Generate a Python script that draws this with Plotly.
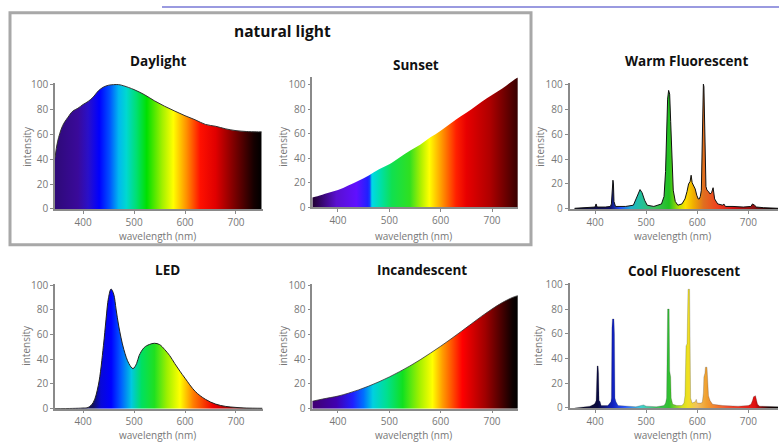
import plotly.graph_objects as go

W, H = 779, 448

# ---------------- data ----------------
daylight_nm = [345, 350, 360, 370, 380, 390, 400, 410, 420, 430, 440, 450, 460, 470, 480,
               500, 520, 540, 560, 580, 600, 620, 640, 660, 680, 700, 720, 740, 750]
daylight_int = [41, 54, 67, 73.5, 78.7, 81, 84, 86.5, 90, 95, 98, 99.5, 100, 100, 99,
                96, 92, 87, 82.6, 78.7, 75, 71.7, 68, 66.5, 64.4, 63, 62.3, 62, 62]

sunset_nm = [350, 360, 380, 400, 420, 440, 460, 480, 500, 520, 540, 560, 580, 600,
             620, 640, 660, 680, 700, 720, 740, 750]
sunset_int = [8, 9, 11.6, 14, 17.7, 21.6, 26, 31, 35, 40.6, 46, 51, 57, 62.5,
              68.6, 74.4, 80, 86, 91.5, 96.8, 103, 105.8]

warm_nm = [360, 380, 395, 400, 402, 404, 420, 430, 432, 434, 435, 436, 437, 440, 460, 475,
           480, 485, 488, 492, 497, 502, 515, 530, 535, 538, 540, 542, 544, 546, 548,
           550, 553, 557, 562, 570, 576, 580, 583, 586, 588, 590, 593, 596, 599, 602,
           604, 606, 608, 609, 610, 611, 612, 613, 614, 615, 617, 619, 622, 625, 628,
           631, 634, 640, 650, 652, 655, 670, 690, 705, 708, 712, 716, 730, 750, 758]
warm_int = [0.5, 1, 1, 1.5, 4, 1.5, 1.5, 2, 4, 15, 23, 20, 6, 2, 2, 3,
            8, 14, 15.5, 13, 7, 3, 2, 4, 10, 30, 60, 88, 95, 92, 70,
            40, 15, 6, 3, 4, 8, 14, 20, 22, 27, 21, 18, 16, 11, 8,
            8, 10, 15, 33, 60, 92, 100, 98, 80, 40, 18, 15, 14, 12, 13,
            17, 8, 4, 3, 4, 2, 2, 1.5, 2, 4, 3, 1.5, 1, 1, 0.5]

led_nm = [345, 380, 400, 410, 420, 430, 440, 445, 450, 455, 460, 465, 470, 480, 490,
          498, 505, 510, 520, 530, 540, 550, 560, 570, 580, 590, 600, 620, 640, 660,
          680, 700, 720, 752]
led_int = [0, 0.2, 0.5, 1, 5, 19, 51, 72, 90, 97, 93, 80, 67, 48, 36.5,
           32.5, 36.5, 43, 49.6, 52, 53, 52, 48, 43, 36.5, 30.4, 24.7, 14, 7.6, 3.7,
           1.8, 1, 0.5, 0.3]

incand_nm = [350, 370, 400, 420, 440, 460, 480, 500, 520, 540, 560, 580, 600, 620,
             640, 660, 680, 700, 720, 740, 750]
incand_int = [6, 7.8, 10.2, 12.5, 15.2, 18.3, 21.8, 25.7, 30, 34.6, 39.6, 45, 50.6, 56.5,
              62.6, 68.8, 75, 80.8, 86, 90.2, 91.6]

cool_nm = [360, 375, 390, 398, 400, 402, 403, 404, 406, 407, 408, 410, 412, 425, 431,
           432, 433, 434, 437, 438, 439, 441, 445, 460, 480, 490, 495, 500, 520, 535,
           538, 540, 541, 542, 545, 546, 548, 549, 552, 560, 570, 574, 576, 577, 578,
           580, 581, 582, 585, 586, 587, 590, 596, 598, 600, 608, 610, 612, 613, 615,
           616, 619, 620, 622, 625, 630, 650, 680, 700, 705, 708, 710, 714, 716, 718,
           722, 740, 758]
cool_int = [0, 0.5, 1.5, 3, 4, 6, 30, 34, 34, 28, 6, 5, 2, 2, 5,
            8, 65, 72, 72, 60, 8, 5, 2, 1.5, 1, 2, 2.5, 1.5, 1, 2,
            4, 8, 70, 80, 80, 30, 25, 8, 3, 2, 2, 4, 10, 45, 50,
            52, 90, 96, 96, 60, 8, 4, 5, 7, 4, 4, 5, 12, 25, 28,
            33, 33, 20, 10, 6, 3, 2, 1.5, 2, 3, 6, 9, 10, 6, 3,
            1.5, 1, 1]

x_ticks = [400, 500, 600, 700]
y_ticks = [0, 20, 40, 60, 80, 100]

# spectrum colour stops (nm, colour)
daylight_stops = [(345, '#2e0a78'), (390, '#3a0a9a'), (410, '#2a10c8'), (432, '#0000ff'),
                  (452, '#0050ff'), (470, '#00b8f0'), (485, '#00d8d0'), (505, '#00e070'),
                  (525, '#00e000'), (555, '#a0f000'), (577, '#ffff00'), (603, '#ff9000'),
                  (630, '#ff1000'), (660, '#e00000'), (695, '#800000'), (735, '#150000'),
                  (752, '#000000')]
sunset_stops = [(350, '#200030'), (397, '#5a10d0'), (436, '#6010ff'), (458, '#2020ff'),
                (462, '#1040ff'), (466, '#00d8e8'), (485, '#00e0a0'), (505, '#10e050'),
                (540, '#30e020'), (562, '#b0f000'), (578, '#ffff00'), (604, '#ff9000'),
                (630, '#ff2000'), (650, '#e80000'), (695, '#b00000'), (750, '#380000')]
warm_stops = [(360, '#101030'), (403, '#101050'), (430, '#10106a'), (450, '#2050ff'),
              (470, '#20b0d0'), (488, '#20c0a0'), (515, '#40c060'), (545, '#20c020'),
              (565, '#c0e000'), (577, '#ffe000'), (592, '#f0b000'), (612, '#e07020'),
              (640, '#f04020'), (670, '#d01010'), (710, '#901010'), (740, '#200000'),
              (758, '#000000')]
led_stops = [(345, '#101040'), (420, '#101060'), (435, '#0808d8'), (455, '#0000ff'),
             (475, '#0060ff'), (495, '#00c8e0'), (515, '#00e060'), (540, '#20e020'),
             (565, '#a0f000'), (590, '#ffff00'), (616, '#ff8000'), (655, '#f00000'),
             (695, '#900000'), (725, '#200000'), (752, '#000000')]
incand_stops = [(350, '#400070'), (397, '#4000b0'), (429, '#2020ff'), (450, '#0070ff'),
                (468, '#00d0e0'), (495, '#00e090'), (526, '#10e020'), (558, '#a0f000'),
                (584, '#ffff00'), (603, '#ffa000'), (642, '#ff0000'), (687, '#a00000'),
                (739, '#100000'), (750, '#000000')]
cool_stops = [(360, '#101020'), (405, '#0a0a40'), (420, '#101880'), (435, '#1020c0'),
              (460, '#3060ff'), (490, '#40d0d0'), (520, '#40c060'), (545, '#30c030'),
              (570, '#d0e020'), (582, '#f0e020'), (600, '#f0c060'), (618, '#f0a030'),
              (660, '#f05030'), (713, '#e01010'), (740, '#200000'), (758, '#000000')]

# ---------------- panel layout (pixel geometry) ----------------
panels = [
    dict(title='Daylight', nm=daylight_nm, val=daylight_int, stops=daylight_stops,
         xr=[345, 752], yr=[0, 101], px=(55, 262.5), py=(209, 79.7),
         line=dict(color='#303030', width=1), shape='spline',
         tpos=(158, 57), ylab=(27, 145), xlab=(157, 237)),
    dict(title='Sunset', nm=sunset_nm, val=sunset_int, stops=sunset_stops,
         xr=[350, 751], yr=[0, 106], px=(312.3, 518.2), py=(207.3, 73.4),
         line=dict(color='rgba(0,0,0,0)', width=0), shape='spline',
         tpos=(416, 61), ylab=(283, 145), xlab=(413, 237)),
    dict(title='Warm Fluorescent', nm=warm_nm, val=warm_int, stops=warm_stops,
         xr=[350, 758], yr=[0, 101], px=(569.5, 778), py=(209, 79.2),
         line=dict(color='#101010', width=1), shape='linear',
         tpos=(686, 57), ylab=(540, 145), xlab=(672, 237)),
    dict(title='LED', nm=led_nm, val=led_int, stops=led_stops,
         xr=[345, 752], yr=[0, 101], px=(55, 262.5), py=(414.7, 286.4),
         line=dict(color='#202020', width=1), shape='spline',
         tpos=(167, 272), ylab=(26, 350), xlab=(157, 441.5)),
    dict(title='Incandescent', nm=incand_nm, val=incand_int, stops=incand_stops,
         xr=[350, 751], yr=[0, 101], px=(312.3, 518.2), py=(414.7, 286.4),
         line=dict(color='#303030', width=0.8), shape='spline',
         tpos=(422, 272), ylab=(283, 350), xlab=(413, 441.5)),
    dict(title='Cool Fluorescent', nm=cool_nm, val=cool_int, stops=cool_stops,
         xr=[350, 758], yr=[0, 101], px=(569.5, 778), py=(414, 285.4),
         line=dict(color='rgba(30,30,30,0.35)', width=0.6), shape='linear',
         tpos=(684, 273), ylab=(538, 350), xlab=(672, 441.5)),
]

GRAY = '#8a8a8a'
TICKCOL = '#777777'
FONT = 'Open Sans'

fig = go.Figure()
annotations = []
layout_axes = {}

for i, p in enumerate(panels, start=1):
    sfx = '' if i == 1 else str(i)
    start, stop = p['nm'][0], p['nm'][-1]
    cs = [[max(0, min(1, (n - start) / (stop - start))), c] for n, c in p['stops']]
    fig.add_trace(go.Scatter(
        x=p['nm'], y=p['val'], mode='lines', fill='tozeroy',
        line=dict(shape=p['shape'], color=p['line']['color'], width=p['line']['width']),
        fillgradient=dict(type='horizontal', start=start, stop=stop, colorscale=cs),
        xaxis='x' + sfx, yaxis='y' + sfx, showlegend=False, hoverinfo='skip'))

    common = dict(showgrid=False, zeroline=False, showline=True, linecolor=GRAY, linewidth=1.5,
                  ticks='outside', ticklen=3, tickcolor=GRAY, tickwidth=1.2,
                  tickfont=dict(family=FONT, size=10, color=TICKCOL), fixedrange=True)
    layout_axes['xaxis' + sfx] = dict(common, range=p['xr'], tickvals=x_ticks,
                                      domain=[p['px'][0] / W, p['px'][1] / W],
                                      anchor='y' + sfx)
    layout_axes['yaxis' + sfx] = dict(common, range=p['yr'], tickvals=y_ticks,
                                      domain=[1 - p['py'][0] / H, 1 - p['py'][1] / H],
                                      anchor='x' + sfx)

    annotations.append(dict(text='<b>%s</b>' % p['title'], x=p['tpos'][0] / W, y=1 - p['tpos'][1] / H,
                            xref='paper', yref='paper', showarrow=False, xanchor='center', yanchor='middle',
                            font=dict(family=FONT, size=13.5, color='#111111')))
    annotations.append(dict(text='intensity', x=p['ylab'][0] / W, y=1 - p['ylab'][1] / H,
                            xref='paper', yref='paper', showarrow=False, textangle=-90,
                            xanchor='center', yanchor='middle',
                            font=dict(family=FONT, size=10, color=TICKCOL)))
    annotations.append(dict(text='wavelength (nm)', x=p['xlab'][0] / W, y=1 - p['xlab'][1] / H,
                            xref='paper', yref='paper', showarrow=False,
                            xanchor='center', yanchor='middle',
                            font=dict(family=FONT, size=10, color=TICKCOL)))

annotations.append(dict(text='<b>natural light</b>', x=282 / W, y=1 - 26 / H, xref='paper', yref='paper',
                        showarrow=False, xanchor='center', yanchor='middle',
                        font=dict(family=FONT, size=15.5, color='#111111')))

shapes = [
    dict(type='rect', xref='paper', yref='paper', x0=10 / W, x1=531 / W, y0=1 - 246 / H, y1=1 - 7 / H,
         line=dict(color='#a8a8a8', width=3), fillcolor='rgba(0,0,0,0)', layer='below'),
    dict(type='line', xref='paper', yref='paper', x0=162 / W, x1=1, y0=1 - 1 / H, y1=1 - 1 / H,
         line=dict(color='#9a9ae0', width=2)),
]

fig.update_layout(width=W, height=H, margin=dict(l=0, r=0, t=0, b=0),
                  paper_bgcolor='white', plot_bgcolor='white',
                  annotations=annotations, shapes=shapes, **layout_axes)

fig.write_html('out.html', config={'displayModeBar': False},
               post_script="document.body.style.margin='0';document.body.style.padding='0';"
                           "document.body.style.overflow='hidden';")
